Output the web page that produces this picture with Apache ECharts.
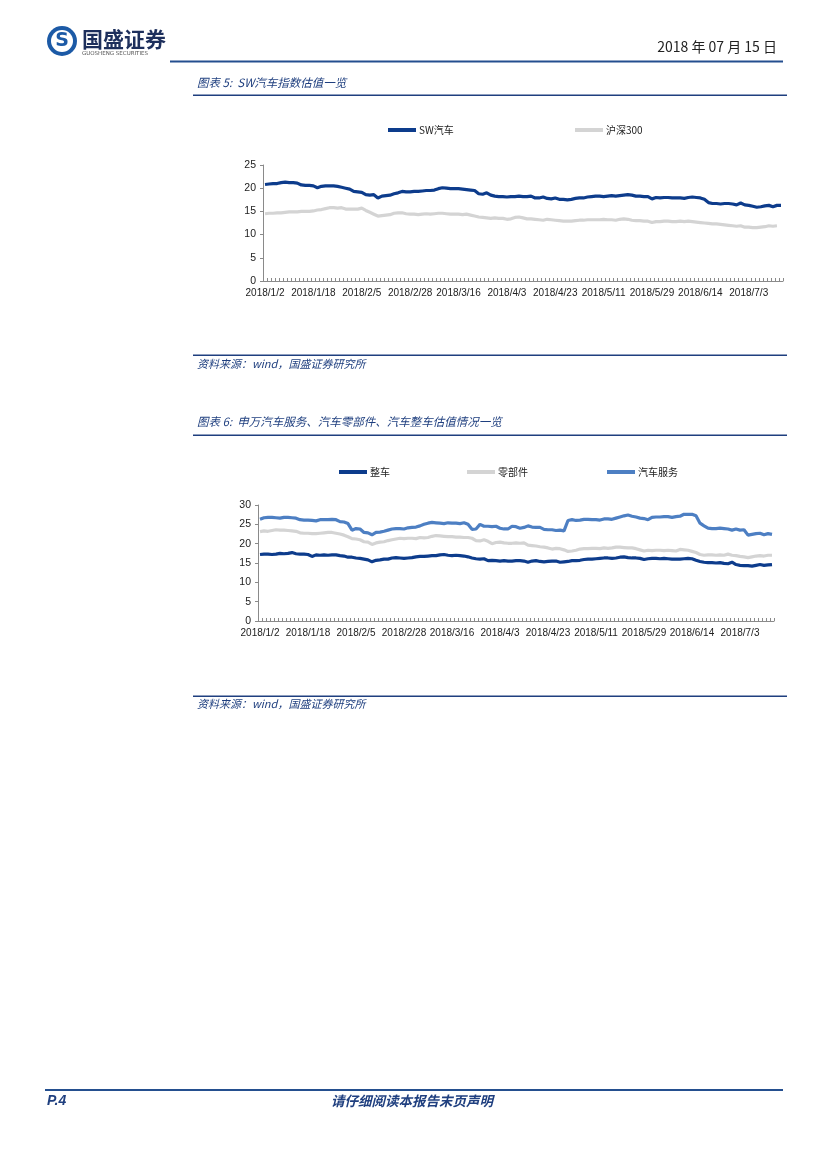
<!DOCTYPE html>
<html><head><meta charset="utf-8">
<script src="https://cdn.jsdelivr.net/npm/echarts@6/dist/echarts.min.js"></script>
<style>html,body{margin:0;padding:0;background:#fff}#page{width:827px;height:1169px}</style>
</head><body><div id="page"></div>
<script>
const dates = ["2018/1/2","2018/1/3","2018/1/4","2018/1/5","2018/1/8","2018/1/9","2018/1/10","2018/1/11","2018/1/12","2018/1/15","2018/1/16","2018/1/17","2018/1/18","2018/1/19","2018/1/22","2018/1/23","2018/1/24","2018/1/25","2018/1/26","2018/1/29","2018/1/30","2018/1/31",
"2018/2/1","2018/2/2","2018/2/5","2018/2/6","2018/2/7","2018/2/8","2018/2/9","2018/2/12","2018/2/13","2018/2/14","2018/2/22","2018/2/23","2018/2/26","2018/2/27","2018/2/28",
"2018/3/1","2018/3/2","2018/3/5","2018/3/6","2018/3/7","2018/3/8","2018/3/9","2018/3/12","2018/3/13","2018/3/14","2018/3/15","2018/3/16","2018/3/19","2018/3/20","2018/3/21","2018/3/22","2018/3/23","2018/3/26","2018/3/27","2018/3/28","2018/3/29","2018/3/30",
"2018/4/2","2018/4/3","2018/4/4","2018/4/9","2018/4/10","2018/4/11","2018/4/12","2018/4/13","2018/4/16","2018/4/17","2018/4/18","2018/4/19","2018/4/20","2018/4/23","2018/4/24","2018/4/25","2018/4/26","2018/4/27",
"2018/5/2","2018/5/3","2018/5/4","2018/5/7","2018/5/8","2018/5/9","2018/5/10","2018/5/11","2018/5/14","2018/5/15","2018/5/16","2018/5/17","2018/5/18","2018/5/21","2018/5/22","2018/5/23","2018/5/24","2018/5/25","2018/5/28","2018/5/29","2018/5/30","2018/5/31",
"2018/6/1","2018/6/4","2018/6/5","2018/6/6","2018/6/7","2018/6/8","2018/6/11","2018/6/12","2018/6/13","2018/6/14","2018/6/15","2018/6/19","2018/6/20","2018/6/21","2018/6/22","2018/6/25","2018/6/26","2018/6/27","2018/6/28","2018/6/29",
"2018/7/2","2018/7/3","2018/7/4","2018/7/5","2018/7/6","2018/7/9","2018/7/10","2018/7/11","2018/7/12","2018/7/13"];

const swAuto = [20.8,20.9,21.0,21.0,21.2,21.3,21.2,21.2,21.1,20.7,20.6,20.6,20.5,20.1,20.4,20.5,20.5,20.5,20.4,20.2,20.0,19.8,19.3,19.2,19.1,18.6,18.5,18.6,17.9,18.3,18.4,18.5,18.8,19.0,19.3,19.2,19.2,19.3,19.3,19.4,19.5,19.5,19.6,19.9,20.1,20.0,19.9,19.9,19.9,19.8,19.7,19.6,19.5,18.8,18.7,19.0,18.5,18.3,18.2,18.2,18.1,18.2,18.2,18.3,18.2,18.2,18.3,17.9,17.9,18.1,17.8,17.7,17.9,17.6,17.6,17.5,17.6,17.8,17.9,17.9,18.1,18.2,18.3,18.3,18.2,18.3,18.4,18.3,18.4,18.5,18.6,18.5,18.3,18.3,18.2,18.2,17.7,18.0,17.9,18.0,18.0,17.9,17.9,17.9,17.8,18.0,18.1,18.0,17.9,17.6,16.9,16.7,16.7,16.6,16.7,16.7,16.6,16.4,16.8,16.4,16.3,16.1,15.9,16.0,16.2,16.3,16.0,16.3,16.3];
const hs300 = [14.5,14.6,14.6,14.7,14.7,14.8,14.9,14.9,14.9,15.0,15.0,15.0,15.1,15.3,15.4,15.6,15.8,15.8,15.7,15.8,15.5,15.5,15.5,15.5,15.7,15.2,14.8,14.4,14.0,14.1,14.2,14.3,14.6,14.7,14.7,14.5,14.4,14.4,14.3,14.4,14.5,14.4,14.5,14.6,14.6,14.5,14.4,14.4,14.4,14.3,14.4,14.2,14.0,13.8,13.7,13.6,13.5,13.6,13.5,13.5,13.3,13.4,13.7,13.8,13.6,13.4,13.4,13.3,13.2,13.1,13.3,13.2,13.1,13.0,12.9,12.9,12.9,13.0,13.1,13.1,13.2,13.2,13.2,13.2,13.3,13.2,13.2,13.1,13.3,13.4,13.3,13.1,13.0,13.0,12.9,12.9,12.6,12.8,12.8,12.9,12.9,12.8,12.8,12.9,12.8,12.9,12.8,12.7,12.6,12.5,12.4,12.3,12.3,12.2,12.1,12.0,11.9,11.8,11.9,11.6,11.6,11.5,11.5,11.6,11.7,11.9,11.8,11.9,null];

const zhengche = [17.2,17.3,17.3,17.2,17.3,17.5,17.4,17.5,17.7,17.4,17.3,17.3,17.2,16.7,17.1,17.0,17.1,17.0,17.1,17.1,16.9,16.8,16.5,16.5,16.3,16.2,16.0,15.8,15.3,15.7,15.8,16.0,16.0,16.3,16.4,16.3,16.2,16.3,16.4,16.6,16.7,16.7,16.8,16.9,16.9,17.1,17.2,17.0,16.9,17.0,16.9,16.8,16.6,16.3,16.1,16.0,16.1,15.6,15.7,15.6,15.5,15.6,15.5,15.5,15.6,15.6,15.5,15.2,15.5,15.6,15.4,15.3,15.4,15.5,15.5,15.2,15.3,15.4,15.6,15.6,15.7,15.9,16.0,16.0,16.1,16.2,16.3,16.3,16.2,16.3,16.5,16.6,16.4,16.3,16.3,16.2,15.9,16.1,16.2,16.2,16.1,16.2,16.1,16.0,16.0,16.0,16.1,16.2,16.1,15.7,15.4,15.2,15.1,15.1,15.0,15.1,14.9,14.8,15.2,14.6,14.4,14.3,14.3,14.2,14.4,14.6,14.4,14.5,14.6];
const lingbujian = [23.1,23.3,23.2,23.4,23.6,23.5,23.5,23.4,23.3,23.2,22.8,22.7,22.7,22.6,22.6,22.7,22.8,22.9,22.9,22.7,22.5,22.2,21.8,21.3,21.2,21.0,20.5,20.4,19.8,20.2,20.4,20.5,20.8,21.0,21.2,21.4,21.3,21.4,21.4,21.3,21.6,21.5,21.6,21.9,22.1,22.0,21.9,21.8,21.8,21.7,21.7,21.6,21.6,21.4,20.8,20.7,21.0,20.6,20.0,20.3,20.4,20.2,20.1,20.1,20.2,20.1,20.2,19.6,19.5,19.4,19.2,19.1,18.9,18.6,18.8,18.7,18.4,18.0,18.1,18.3,18.6,18.7,18.7,18.8,18.8,18.7,18.9,18.8,18.9,19.1,19.1,19.0,18.9,18.9,18.7,18.4,18.1,18.3,18.2,18.3,18.3,18.2,18.3,18.2,18.1,18.5,18.4,18.3,18.0,17.7,17.2,17.0,17.1,17.1,17.0,17.1,17.0,17.3,17.0,16.9,16.7,16.6,16.4,16.6,16.8,16.9,16.8,17.0,17.0];
const fuwu = [26.3,26.7,26.8,26.8,26.7,26.6,26.8,26.8,26.7,26.6,26.2,26.1,26.1,26.0,25.9,26.2,26.2,26.2,26.3,26.2,25.7,25.6,25.2,23.5,23.9,23.8,22.9,22.8,22.3,22.9,23.0,23.2,23.5,23.8,23.9,23.9,23.8,24.1,24.2,24.3,24.6,25.0,25.3,25.5,25.4,25.3,25.2,25.4,25.3,25.3,25.2,25.4,25.0,23.7,23.8,25.0,24.5,24.5,24.4,24.5,24.0,23.8,23.8,24.5,24.4,24.0,24.2,24.6,24.3,24.2,24.2,23.7,23.6,23.6,23.4,23.5,23.3,26.0,26.2,26.0,26.1,26.3,26.3,26.2,26.2,26.1,26.4,26.4,26.3,26.6,26.9,27.2,27.4,27.1,26.9,26.6,26.5,26.2,26.8,26.9,26.9,27.0,27.0,26.8,27.0,27.1,27.6,27.6,27.6,27.2,25.3,24.6,24.0,23.9,23.9,24.0,23.9,23.8,23.5,23.8,23.5,23.6,22.2,22.4,22.6,22.7,22.3,22.6,22.4];

const names1 = ["SW汽车","沪深300"];
const names2 = ["整车","零部件","汽车服务"];
const captions = ["图表 5:  SW汽车指数估值一览","图表 6:  申万汽车服务、汽车零部件、汽车整车估值情况一览"];
const sourceText = "资料来源：wind，国盛证券研究所";

const DARK = '#0d3c8c', GREY = '#d4d4d4', MID = '#4d7fc3', NAVY = '#1f3f7f';
const AX = '#8a8a8a';
const labelFont = 'Liberation Sans, Arial, sans-serif';
const cjk = '"Noto Sans CJK SC", sans-serif';

const chart = echarts.init(document.getElementById('page'), null, {renderer:'canvas', width:827, height:1169});

function xAx(grid){
  return {type:'category', gridIndex:grid, data:dates, boundaryGap:true,
    axisLine:{lineStyle:{color:AX,width:1}},
    axisTick:{show:true, interval:0, inside:true, length:3, lineStyle:{color:AX}},
    axisLabel:{interval:11, fontSize:10, color:'#222', margin:7, fontFamily:labelFont}};
}
function yAx(grid,max){
  return {type:'value', gridIndex:grid, min:0, max:max, interval:5,
    axisLine:{show:true, lineStyle:{color:AX,width:1}},
    axisTick:{show:true, length:3, lineStyle:{color:AX}},
    splitLine:{show:false},
    axisLabel:{fontSize:10.5, color:'#222', margin:7, fontFamily:labelFont}};
}
function ser(name, data, color, xi){
  return {name:name, type:'line', xAxisIndex:xi, yAxisIndex:xi, data:data, showSymbol:false,
    symbol:'none', lineStyle:{color:color, width:3.2}, itemStyle:{color:color}, animation:false};
}
function leg(name, left, top){
  return {data:[name], left:left, top:top, icon:'rect', itemWidth:28, itemHeight:4, itemGap:3,
    textStyle:{fontSize:10, color:'#222', fontFamily:cjk, padding:[0,0,0,-2]}, padding:0, selectedMode:false};
}
function hline(x1,x2,y,w,color){
  return {type:'rect', shape:{x:x1,y:y,width:x2-x1,height:w}, style:{fill:color}, silent:true};
}
function txt(x,y,s,opt){
  return {type:'text', x:x, y:y, style:Object.assign({text:s, fill:NAVY, font:'italic 11.5px '+cjk, textVerticalAlign:'middle'}, opt||{}), silent:true};
}

const option = {
  backgroundColor:'#fff',
  animation:false,
  grid:[{left:263, top:165, width:520, height:116},{left:258, top:505, width:516, height:116}],
  xAxis:[xAx(0), xAx(1)],
  yAxis:[yAx(0,25), yAx(1,30)],
  legend:[leg(names1[0],388,125), leg(names1[1],575,125), leg(names2[0],339,467), leg(names2[1],467,467), leg(names2[2],607,467)],
  series:[
    ser(names1[0], swAuto, DARK, 0),
    ser(names1[1], hs300, GREY, 0),
    ser(names2[0], zhengche, DARK, 1),
    ser(names2[1], lingbujian, GREY, 1),
    ser(names2[2], fuwu, MID, 1)
  ],
  graphic:[
    {type:'circle', shape:{cx:62, cy:41, r:15}, style:{fill:'#1c5aa6'}, silent:true},
    {type:'circle', shape:{cx:62, cy:41, r:11}, style:{fill:'#fff'}, silent:true},
    {type:'text', x:62, y:41, style:{text:'S', fill:'#1c5aa6', font:'bold 19px "DejaVu Sans"', textAlign:'center', textVerticalAlign:'middle'}, silent:true},
    {type:'text', x:82, y:39, style:{text:'国盛证券', fill:'#1d2f5c', font:'bold 21px '+cjk, textVerticalAlign:'middle'}, silent:true},
    {type:'text', x:82, y:54, style:{text:'GUOSHENG SECURITIES', fill:'#555', font:'5.5px "DejaVu Sans"', textVerticalAlign:'middle'}, silent:true},
    {type:'text', x:777, y:47, style:{text:'2018 年 07 月 15 日', fill:'#222', font:'14px '+cjk, textAlign:'right', textVerticalAlign:'middle'}, silent:true},
    hline(170,783,60.5,2,'#244f8f'),
    txt(197,83,captions[0]),
    hline(193,787,94.5,1.6,NAVY),
    hline(193,787,354.5,1.6,NAVY),
    txt(197,364,sourceText,{font:'italic 11px '+cjk}),
    txt(197,422,captions[1]),
    hline(193,787,434.5,1.6,NAVY),
    hline(193,787,695.5,1.6,NAVY),
    txt(197,704,sourceText,{font:'italic 11px '+cjk}),
    hline(45,783,1089,2,'#244f8f'),
    txt(47,1101,'P.4',{font:'italic bold 14px "Liberation Sans"', fill:NAVY}),
    txt(412,1101,'请仔细阅读本报告末页声明',{font:'italic bold 13.5px '+cjk, fill:NAVY, textAlign:'center'})
  ]
};
chart.setOption(option);
</script>
</body></html>
